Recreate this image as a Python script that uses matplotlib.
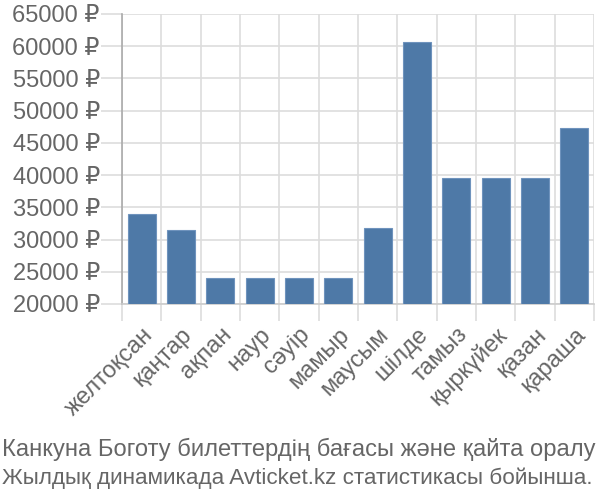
import matplotlib

matplotlib.use("Agg")
import matplotlib.pyplot as plt
import numpy as np
from matplotlib.ticker import FixedLocator

months = ["желтоқсан", "қаңтар", "ақпан", "наур", "сәуір", "мамыр",
          "маусым", "шілде", "тамыз", "қыркүйек", "қазан", "қараша"]
prices = [34000, 31500, 24000, 24000, 24000, 24000,
          31800, 60700, 39500, 39500, 39500, 47300]
yticks = [20000, 25000, 30000, 35000, 40000, 45000, 50000, 55000, 60000, 65000]
caption_lines = ["Канкуна Боготу билеттердің бағасы және қайта оралу",
                 "Жылдық динамикада Avticket.kz статистикасы бойынша."]

plt.rcParams["font.family"] = ["Liberation Sans", "DejaVu Sans"]
text_color = "#666666"
grid_color = "#dddddd"

fig = plt.figure(figsize=(6, 5), dpi=100)
ax = fig.add_axes([122 / 600, 1 - 304 / 500, 472 / 600, 290 / 500])

x = np.arange(len(months))
ax.bar(x, np.array(prices) - yticks[0], bottom=yticks[0], width=0.72,
       color="#4e79a7", edgecolor="#6f93bd", linewidth=0.8, zorder=3)

ax.set_xlim(-0.5, len(months) - 0.5)
ax.set_ylim(yticks[0], yticks[-1])

ax.set_yticks(yticks)
ax.set_yticklabels([f"{v} ₽" for v in yticks])
ax.set_xticks(x)
ax.set_xticklabels(months, rotation=45, ha="right", va="top",
                   rotation_mode="anchor")
ax.xaxis.set_minor_locator(FixedLocator(np.arange(-0.5, len(months), 1.0)))

ax.tick_params(axis="x", which="major", length=0, pad=14,
               labelsize=17, labelcolor=text_color)
ax.tick_params(axis="x", which="minor", length=12, width=1.2, color=grid_color)
ax.tick_params(axis="y", length=15, width=1.2, color=grid_color, pad=1,
               labelsize=17, labelcolor=text_color)

ax.grid(axis="y", color=grid_color, lw=1.2, zorder=0)
ax.grid(axis="x", which="minor", color=grid_color, lw=1.2, zorder=0)
ax.set_axisbelow(True)

for side in ("top", "right"):
    ax.spines[side].set_visible(False)
ax.spines["left"].set_color("#aaaaaa")
ax.spines["left"].set_linewidth(1.2)
ax.spines["left"].set_bounds(yticks[0], yticks[-1])
ax.spines["bottom"].set_color("#cccccc")
ax.spines["bottom"].set_linewidth(1.2)

# caption: two lines, second one a touch smaller so it fits the width
fig.text(0.003, 1 - 456 / 500, caption_lines[0], ha="left", va="baseline",
         fontsize=17.1, color=text_color)
fig.text(0.003, 1 - 484 / 500, caption_lines[1], ha="left", va="baseline",
         fontsize=16.2, color=text_color)

fig.savefig("out.png", dpi=100)
